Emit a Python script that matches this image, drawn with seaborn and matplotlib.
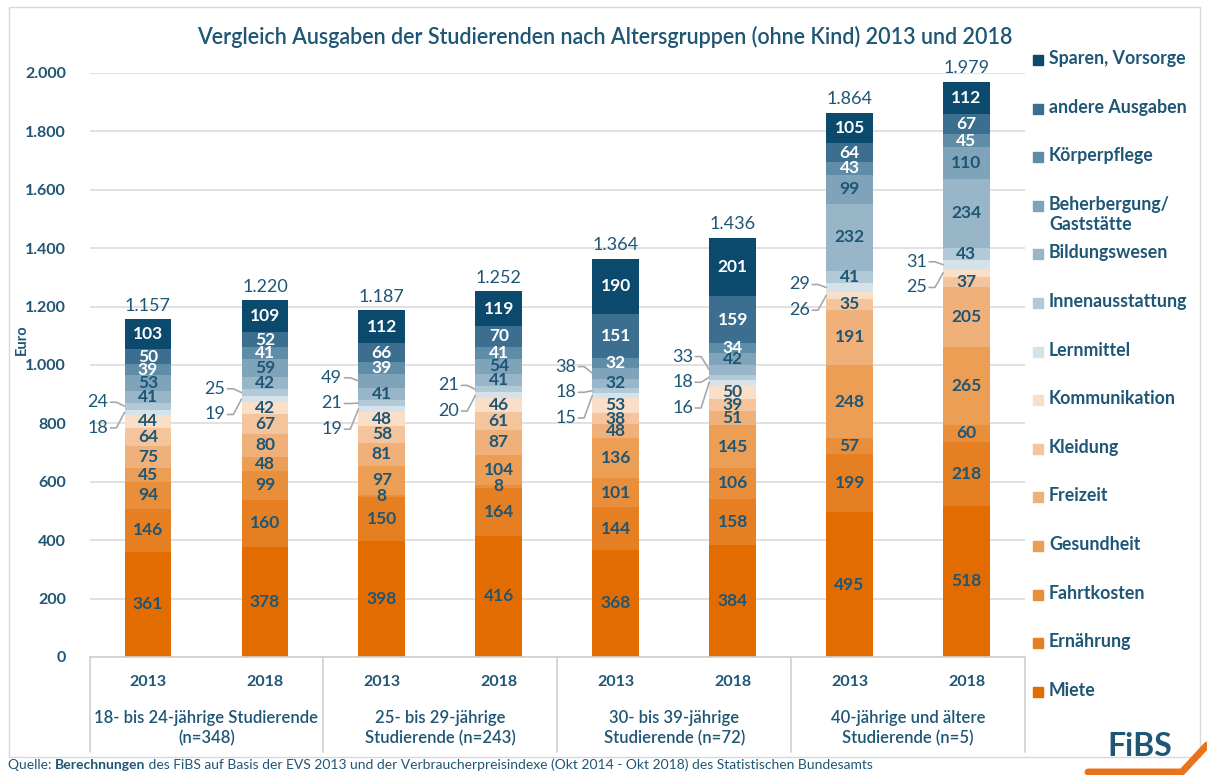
import matplotlib
matplotlib.use("Agg")
import matplotlib.pyplot as plt
from matplotlib.patches import Rectangle
from matplotlib.lines import Line2D
import seaborn as sns
import pandas as pd

# --- data ---
categories = ["Miete", "Ernährung", "Fahrtkosten", "Gesundheit", "Freizeit", "Kleidung",
              "Kommunikation", "Lernmittel", "Innenausstattung", "Bildungswesen",
              "Beherbergung/\nGaststätte", "Körperpflege", "andere Ausgaben", "Sparen, Vorsorge"]
bar_keys = ["18-24 2013", "18-24 2018", "25-29 2013", "25-29 2018",
            "30-39 2013", "30-39 2018", "40+ 2013", "40+ 2018"]
years = ["2013", "2018"] * 4
groups = ["18- bis 24-jährige Studierende\n(n=348)", "25- bis 29-jährige\nStudierende (n=243)",
          "30- bis 39-jährige\nStudierende (n=72)", "40-jährige und ältere\nStudierende (n=5)"]
totals = [1157, 1220, 1187, 1252, 1364, 1436, 1864, 1979]

miete = [361, 378, 398, 416, 368, 384, 495, 518]
ernaehrung = [146, 160, 150, 164, 144, 158, 199, 218]
fahrtkosten = [94, 99, 8, 8, 101, 106, 57, 60]
gesundheit = [45, 48, 97, 104, 136, 145, 248, 265]
freizeit = [75, 80, 81, 87, 48, 51, 191, 205]
kleidung = [64, 67, 58, 61, 38, 39, 35, 37]
kommunikation = [44, 42, 48, 46, 53, 50, 26, 25]
lernmittel = [18, 19, 19, 20, 15, 16, 29, 31]
innenausstattung = [24, 25, 21, 21, 18, 18, 41, 43]
bildungswesen = [41, 42, 41, 41, 32, 33, 232, 234]
beherbergung = [53, 59, 49, 54, 38, 42, 99, 110]
koerperpflege = [39, 41, 39, 41, 32, 34, 43, 45]
andere = [50, 52, 66, 70, 151, 159, 64, 67]
sparen = [103, 109, 112, 119, 190, 201, 105, 112]

series = [miete, ernaehrung, fahrtkosten, gesundheit, freizeit, kleidung, kommunikation,
          lernmittel, innenausstattung, bildungswesen, beherbergung, koerperpflege, andere, sparen]

colors = ["#E36C00", "#E67E22", "#E98E3A", "#EC9E55", "#F0B07A", "#F4C49C", "#F9DEC8",
          "#D5E2EA", "#B2CAD7", "#98B6C7", "#7FA3B8", "#5F8CA7", "#3C6F8F", "#0B4A6D"]
TEAL = "#1E5676"
GRID = "#DCDCDC"

# which segment labels sit outside the bar (category indices)
outside = [[7, 8], [7, 8], [7, 8, 10], [7, 8], [7, 8, 10], [7, 8, 9], [6, 7], [6, 7]]

sns.set_theme(style="white")
plt.rcParams["font.family"] = ["Lato", "DejaVu Sans"]

W, H = 1207, 775
fig = plt.figure(figsize=(W / 100, H / 100), dpi=100)
fig.patch.set_facecolor("white")
ax = fig.add_axes([89.5 / W, 1 - 657 / H, 935.5 / W, 584 / H])

df = pd.DataFrame({"bar": bar_keys})
for name, vals in zip(categories, series):
    df[name] = vals
cum = df[categories].cumsum(axis=1)

# stacked bars: paint cumulative heights from the top category down
for i in reversed(range(len(categories))):
    sns.barplot(x=df["bar"], y=cum[categories[i]], color=colors[i], width=0.4,
                saturation=1, linewidth=0, ax=ax)

ax.set_xlim(-0.5, 7.5)
ax.set_ylim(0, 2000)
ax.set_xlabel("")
ax.set_ylabel("")
ax.set_axisbelow(True)
ax.yaxis.grid(True, color=GRID, lw=1.2)
ax.xaxis.grid(False)
for s in ["left", "right", "top"]:
    ax.spines[s].set_visible(False)
ax.spines["bottom"].set_color("#D0D0D0")
ax.spines["bottom"].set_linewidth(1.2)

yt = list(range(0, 2001, 200))
ax.set_yticks(yt)
ax.set_yticklabels([f"{v:,}".replace(",", ".") for v in yt], fontweight="bold",
                   fontsize=11.5, color=TEAL)
ax.tick_params(axis="y", length=0, pad=17)
ax.set_xticks(range(len(bar_keys)))
ax.set_xticklabels(years, fontweight="bold", fontsize=11.5, color=TEAL)
ax.tick_params(axis="x", length=0, pad=13)

# category box below the axis
xt = ax.get_xaxis_transform()
for xe in [-0.5, 1.5, 3.5, 5.5, 7.5]:
    ax.plot([xe, xe], [0, -0.163], transform=xt, color="#D0D0D0", lw=1.2, clip_on=False)
for g, name in enumerate(groups):
    ax.text(2 * g + 0.5, -0.122, name, transform=xt, ha="center", va="center",
            fontsize=12, color=TEAL, fontweight="semibold", linespacing=1.35)

# segment labels
for j in range(len(bar_keys)):
    outs = []
    for i in range(len(categories)):
        v = series[i][j]
        mid = cum[categories[i]][j] - v / 2
        if i in outside[j]:
            outs.append((mid, v))
            continue
        ax.text(j, mid, str(v), ha="center", va="center", fontsize=12.5, fontweight="bold",
                color="white" if i >= 11 else TEAL)
    if outs:
        outs.sort()
        center = sum(m for m, _ in outs) / len(outs) - 20
        n = len(outs)
        for k, (mid, v) in enumerate(outs):
            ly = center + (k - (n - 1) / 2) * 88
            ax.text(j - 0.34, ly, str(v), ha="right", va="center", fontsize=13, color=TEAL)
            ax.plot([j - 0.32, j - 0.27, j - 0.2], [ly, ly, mid], color="#A8A8A8", lw=1.2)
    top = cum[categories[-1]][j]
    ax.annotate(f"{totals[j]:,}".replace(",", "."), (j, top), xytext=(0, 4),
                textcoords="offset points", ha="center", va="bottom", fontsize=13, color=TEAL)

# title, axis label
fig.text(605 / W, 1 - 37 / H,
         "Vergleich Ausgaben der Studierenden nach Altersgruppen (ohne Kind) 2013 und 2018",
         ha="center", va="center", fontsize=15.5, color=TEAL, fontweight="semibold")
fig.text(22 / W, 1 - 340 / H, "Euro", rotation=90, ha="center", va="center",
         fontsize=10.5, fontweight="bold", color=TEAL)

# legend, top category first
for k, i in enumerate(reversed(range(len(categories)))):
    y = 60 + k * 48.6
    fig.patches.append(Rectangle((1033 / W, 1 - (y + 5) / H), 10 / W, 10 / H,
                                 transform=fig.transFigure, color=colors[i]))
    fig.text(1049 / W, 1 - (y - 10) / H, categories[i], ha="left", va="top", fontsize=12.8,
             fontweight="bold", color=TEAL, linespacing=1.2)

# frame
fig.patches.append(Rectangle((9 / W, 1 - 757 / H), 1191 / W, 750 / H, fill=False,
                             edgecolor="#D9D9D9", lw=1, transform=fig.transFigure))

# logo
fig.text(1140 / W, 1 - 746 / H, "FiBS", ha="center", va="center", fontsize=23,
         fontweight="bold", color=TEAL)
fig.add_artist(Line2D([1088 / W, 1182 / W, 1207 / W], [1 - 772 / H, 1 - 772 / H, 1 - 745 / H],
                      color="#E8731A", lw=5, transform=fig.transFigure))

# source line
renderer = fig.canvas.get_renderer()
x = 8 / W
for txt, wgt in [("Quelle: ", "normal"), ("Berechnungen", "bold"),
                 (" des FiBS auf Basis der EVS 2013 und der Verbraucherpreisindexe "
                  "(Okt 2014 - Okt 2018) des Statistischen Bundesamts", "normal")]:
    t = fig.text(x, 1 - 765 / H, txt, ha="left", va="center", fontsize=10, fontweight=wgt,
                 color=TEAL)
    x = t.get_window_extent(renderer).x1 / W

fig.savefig("out.png", dpi=100)
